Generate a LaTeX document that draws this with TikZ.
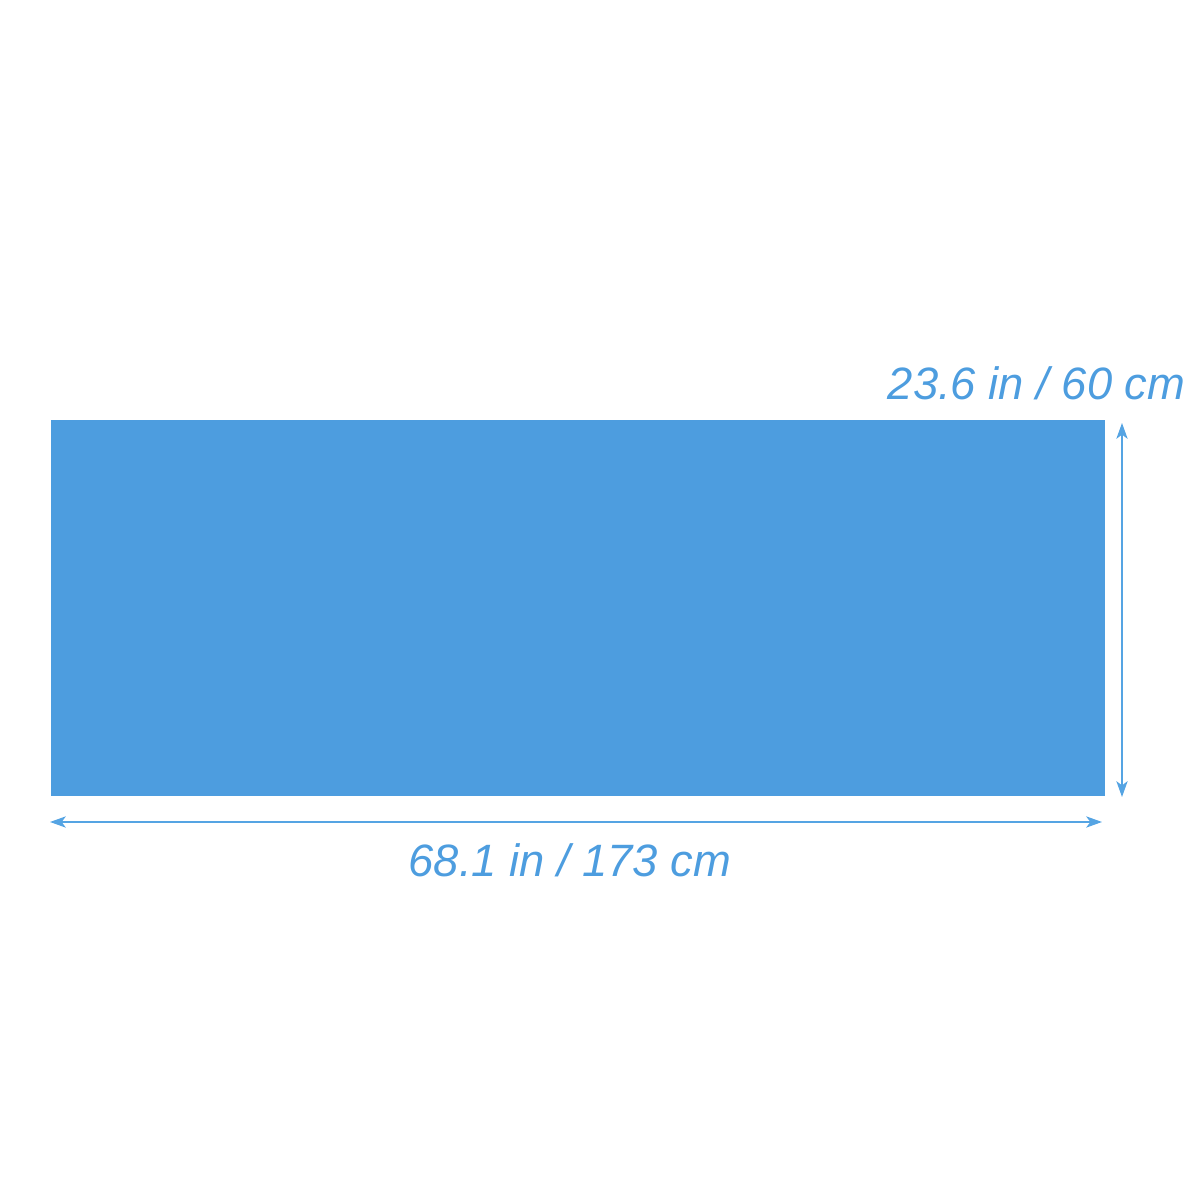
\documentclass[tikz,border=0pt]{standalone}
\usepackage{fontspec}
\setmainfont{Liberation Sans}
\usetikzlibrary{arrows.meta, positioning, calc}
\definecolor{matblue}{HTML}{4D9DDF}
\definecolor{dimblue}{HTML}{55A4E3}

\begin{document}
\begin{tikzpicture}
  \useasboundingbox (0,0) rectangle (12,12);
  \node[fill=matblue, inner sep=0pt, minimum width=10.54cm, minimum height=3.76cm, anchor=south west] (mat) at (0.50,4.03) {};

  \coordinate (hl) at (0.50,3.78);
  \coordinate (hr) at (11.02,3.78);
  \coordinate (vb) at (11.22,4.03);
  \coordinate (vt) at (11.22,7.77);

  \draw[{Stealth[length=4.5pt, width=3.2pt, inset=1.2pt]}-{Stealth[length=4.5pt, width=3.2pt, inset=1.2pt]}, line width=0.55pt, dimblue] (hl) -- (hr);
  \draw[{Stealth[length=4.5pt, width=3.2pt, inset=1.2pt]}-{Stealth[length=4.5pt, width=3.2pt, inset=1.2pt]}, line width=0.55pt, dimblue] (vb) -- (vt);

  \node[anchor=base east, inner sep=0pt, font=\fontsize{12.9pt}{15pt}\selectfont\itshape, text=matblue] (height) at (11.86,8.00) {23.6 in / 60 cm};
  \node[anchor=base, inner sep=0pt, font=\fontsize{12.9pt}{15pt}\selectfont\itshape, text=matblue] (width) at (5.70,3.23) {68.1 in / 173 cm};
\end{tikzpicture}
\end{document}
